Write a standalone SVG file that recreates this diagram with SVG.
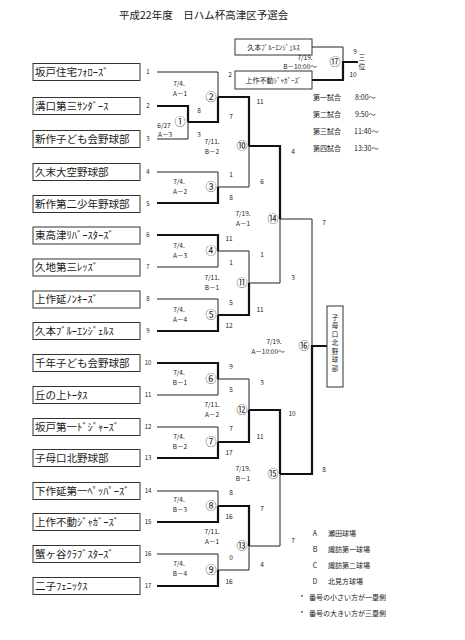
<svg xmlns="http://www.w3.org/2000/svg" width="465" height="640" viewBox="0 0 465 640">
<style>
text{font-family:"Noto Sans CJK JP","Noto Sans",sans-serif;fill:#1a1a1a}
.box{fill:#fff;stroke:#333;stroke-width:1}
.team{font-size:10.5px}
.seed{font-size:6px;text-anchor:middle}
.s{font-size:6.5px;text-anchor:middle}
.d{font-size:6.5px;text-anchor:middle}
.n{font-size:11px;text-anchor:middle}
.t{font-size:7px}
.thin{fill:none;stroke:#222;stroke-width:1}
.thick{fill:none;stroke:#111;stroke-width:2.2}
</style>
<rect width="465" height="640" fill="#fff"/>
<text x="119" y="19" style="font-size:10.5px">平成22年度　日ハム杯高津区予選会</text>

<g id="connectors">
<g class="thin">
<path d="M157,139 H188 V122"/>
<path d="M157,72 H218 V97"/>
<path d="M157,172 H218 V187"/>
<path d="M157,267 H218 V251"/>
<path d="M157,299 H218 V315"/>
<path d="M157,395 H218 V379"/>
<path d="M157,427 H218 V442"/>
<path d="M157,491 H218 V506"/>
<path d="M157,554 H218 V570"/>
<path d="M218,187 H249 V146"/>
<path d="M218,251 H249 V283"/>
<path d="M218,379 H249 V410"/>
<path d="M218,570 H249 V546"/>
<path d="M249,283 H280 V219"/>
<path d="M249,546 H280 V474"/>
<path d="M280,219 H312 V346"/>
<path d="M312,47 H343 V62"/>
</g>
<g class="thick">
<path d="M157,106 H188 V122"/>
<path d="M188,122 H218 V97"/>
<path d="M157,203 H218 V187"/>
<path d="M157,235 H218 V251"/>
<path d="M157,331 H218 V315"/>
<path d="M157,363 H218 V379"/>
<path d="M157,458 H218 V442"/>
<path d="M157,522 H218 V506"/>
<path d="M157,586 H218 V570"/>
<path d="M218,97 H249 V146"/>
<path d="M218,315 H249 V283"/>
<path d="M218,442 H249 V410"/>
<path d="M218,506 H249 V546"/>
<path d="M249,146 H280 V219"/>
<path d="M249,410 H280 V474"/>
<path d="M280,474 H312 V346 H327"/>
<path d="M312,80 H343 V62 H358"/>
</g>
</g>

<g id="team1"><rect class="box" x="33" y="63.5" width="107" height="17"/><text class="team" x="35" y="75.7">坂戸住宅ﾌｫﾛｰｽﾞ</text><text class="seed" x="148" y="74">1</text></g>
<g id="team2"><rect class="box" x="33" y="97.5" width="107" height="17"/><text class="team" x="35" y="109.7">溝口第三ｻﾝﾀﾞｰｽ</text><text class="seed" x="148" y="108">2</text></g>
<g id="team3"><rect class="box" x="33" y="130.5" width="107" height="17"/><text class="team" x="35" y="142.7">新作子ども会野球部</text><text class="seed" x="148" y="141">3</text></g>
<g id="team4"><rect class="box" x="33" y="163.5" width="107" height="17"/><text class="team" x="35" y="175.7">久末大空野球部</text><text class="seed" x="148" y="174">4</text></g>
<g id="team5"><rect class="box" x="33" y="195.5" width="107" height="17"/><text class="team" x="35" y="207.7">新作第二少年野球部</text><text class="seed" x="148" y="206">5</text></g>
<g id="team6"><rect class="box" x="33" y="227" width="107" height="17"/><text class="team" x="35" y="239.2">東高津ﾘﾊﾞｰｽﾀｰｽﾞ</text><text class="seed" x="148" y="237">6</text></g>
<g id="team7"><rect class="box" x="33" y="259" width="107" height="17"/><text class="team" x="35" y="271.2">久地第三ﾚｯｽﾞ</text><text class="seed" x="148" y="269">7</text></g>
<g id="team8"><rect class="box" x="33" y="291" width="107" height="17"/><text class="team" x="35" y="303.2">上作延ﾉﾝｷｰｽﾞ</text><text class="seed" x="148" y="301">8</text></g>
<g id="team9"><rect class="box" x="33" y="322.5" width="107" height="17"/><text class="team" x="35" y="334.7">久本ﾌﾞﾙｰｴﾝｼﾞｪﾙｽ</text><text class="seed" x="148" y="333">9</text></g>
<g id="team10"><rect class="box" x="33" y="354.5" width="107" height="17"/><text class="team" x="35" y="366.7">千年子ども会野球部</text><text class="seed" x="148" y="365">10</text></g>
<g id="team11"><rect class="box" x="33" y="386.5" width="107" height="17"/><text class="team" x="35" y="398.7">丘の上ﾄｰﾀｽ</text><text class="seed" x="148" y="397">11</text></g>
<g id="team12"><rect class="box" x="33" y="418.5" width="107" height="17"/><text class="team" x="35" y="430.7">坂戸第一ﾄﾞｼﾞｬｰｽﾞ</text><text class="seed" x="148" y="429">12</text></g>
<g id="team13"><rect class="box" x="33" y="449.5" width="107" height="17"/><text class="team" x="35" y="461.7">子母口北野球部</text><text class="seed" x="148" y="460">13</text></g>
<g id="team14"><rect class="box" x="33" y="482.5" width="107" height="17"/><text class="team" x="35" y="494.7">下作延第一ﾍﾟｯﾊﾟｰｽﾞ</text><text class="seed" x="148" y="493">14</text></g>
<g id="team15"><rect class="box" x="33" y="513.5" width="107" height="17"/><text class="team" x="35" y="525.7">上作不動ｼﾞｬｶﾞｰｽﾞ</text><text class="seed" x="148" y="524">15</text></g>
<g id="team16"><rect class="box" x="33" y="545.5" width="107" height="17"/><text class="team" x="35" y="557.7">蟹ヶ谷ｸﾗﾌﾞｽﾀｰｽﾞ</text><text class="seed" x="148" y="556">16</text></g>
<g id="team17"><rect class="box" x="33" y="577.5" width="107" height="17"/><text class="team" x="35" y="589.7">二子ﾌｪﾆｯｸｽ</text><text class="seed" x="148" y="588">17</text></g>

<g id="m1"><text class="n" x="180" y="126">①</text><text class="d" x="164" y="128">6/27</text><text class="d" x="165" y="137">A－3</text><text class="s" x="199" y="113.3">8</text><text class="s" x="199" y="137.3">3</text></g>
<g id="m2"><text class="n" x="211" y="101">②</text><text class="d" x="179" y="86">7/4.</text><text class="d" x="180" y="95.5">A－1</text><text class="s" x="230" y="77.3">2</text><text class="s" x="231" y="119.3">7</text></g>
<g id="m3"><text class="n" x="211" y="191">③</text><text class="d" x="179" y="184">7/4.</text><text class="d" x="180" y="194">A－2</text><text class="s" x="231" y="177.3">1</text><text class="s" x="231" y="200.3">8</text></g>
<g id="m4"><text class="n" x="211" y="255">④</text><text class="d" x="179" y="248">7/4.</text><text class="d" x="180" y="258">A－3</text><text class="s" x="229" y="241.3">11</text><text class="s" x="231" y="265.3">1</text></g>
<g id="m5"><text class="n" x="211" y="319">⑤</text><text class="d" x="179" y="312">7/4.</text><text class="d" x="180" y="321.5">A－4</text><text class="s" x="231" y="305.3">5</text><text class="s" x="229" y="328.3">12</text></g>
<g id="m6"><text class="n" x="211" y="383">⑥</text><text class="d" x="179" y="375">7/4.</text><text class="d" x="180" y="385">B－1</text><text class="s" x="231" y="369.3">9</text><text class="s" x="231" y="392.3">5</text></g>
<g id="m7"><text class="n" x="211" y="446">⑦</text><text class="d" x="179" y="439">7/4.</text><text class="d" x="180" y="448.5">B－2</text><text class="s" x="231" y="431.3">7</text><text class="s" x="229" y="455.3">17</text></g>
<g id="m8"><text class="n" x="211" y="510">⑧</text><text class="d" x="179" y="502">7/4.</text><text class="d" x="180" y="511.5">B－3</text><text class="s" x="231" y="495.3">8</text><text class="s" x="229" y="519.3">16</text></g>
<g id="m9"><text class="n" x="211" y="574">⑨</text><text class="d" x="179" y="566">7/4.</text><text class="d" x="180" y="575.5">B－4</text><text class="s" x="231" y="560.3">0</text><text class="s" x="229" y="584.3">16</text></g>
<g id="m10"><text class="n" x="242" y="150">⑩</text><text class="d" x="212" y="144">7/11.</text><text class="d" x="212" y="154">B－2</text><text class="s" x="260" y="104.3">11</text><text class="s" x="262" y="184.3">6</text></g>
<g id="m11"><text class="n" x="242" y="287">⑪</text><text class="d" x="212" y="280">7/11.</text><text class="d" x="212" y="289.5">B－1</text><text class="s" x="262" y="257.3">1</text><text class="s" x="260" y="312.3">11</text></g>
<g id="m12"><text class="n" x="242" y="414">⑫</text><text class="d" x="212" y="407">7/11.</text><text class="d" x="212" y="417">A－2</text><text class="s" x="262" y="385.3">3</text><text class="s" x="260" y="439.3">11</text></g>
<g id="m13"><text class="n" x="242" y="550">⑬</text><text class="d" x="212" y="534">7/11.</text><text class="d" x="212" y="543.5">A－1</text><text class="s" x="262" y="511.3">7</text><text class="s" x="262" y="567.3">4</text></g>
<g id="m14"><text class="n" x="273" y="223">⑭</text><text class="d" x="243" y="216">7/19.</text><text class="d" x="243" y="225.5">A－1</text><text class="s" x="293" y="154.3">4</text><text class="s" x="293" y="280.3">3</text></g>
<g id="m15"><text class="n" x="273" y="478">⑮</text><text class="d" x="243" y="471">7/19.</text><text class="d" x="243" y="480.5">B－1</text><text class="s" x="292" y="416.3">10</text><text class="s" x="293" y="543.3">7</text></g>
<g id="m16"><text class="n" x="304" y="350">⑯</text><text class="d" x="274" y="344">7/19.</text><text class="d" x="268" y="353.5">A－10:00～</text><text class="s" x="324" y="225.3">7</text><text class="s" x="324" y="472.3">8</text></g>
<g id="m17"><text class="n" x="335" y="66">⑰</text><text class="d" x="305" y="59.5">7/19.</text><text class="d" x="300" y="69">B－10:00～</text><text class="s" x="355" y="54.3">9</text><text class="s" x="353" y="77.3">10</text></g>

<g id="third-a"><rect class="box" x="235" y="39" width="77" height="16"/><text x="273.5" y="50" style="font-size:7px;text-anchor:middle">久本ﾌﾞﾙｰｴﾝｼﾞｪﾙｽ</text></g>
<g id="third-b"><rect class="box" x="235" y="71" width="77" height="18"/><text x="273.5" y="82.5" style="font-size:7px;text-anchor:middle">上作不動ｼﾞｬｶﾞｰｽﾞ</text></g>
<g id="third-place"><text x="362" y="59.5" style="font-size:6.8px;text-anchor:middle">三</text><text x="362" y="69" style="font-size:6.8px;text-anchor:middle">位</text></g>
<g id="champion"><rect class="box" x="327" y="306" width="16" height="81"/>
<text style="font-size:6.5px;text-anchor:middle"><tspan x="335" y="319.5">子</tspan><tspan x="335" y="328">母</tspan><tspan x="335" y="336.5">口</tspan><tspan x="335" y="345">北</tspan><tspan x="335" y="353.5">野</tspan><tspan x="335" y="362">球</tspan><tspan x="335" y="370.5">部</tspan></text></g>

<g id="schedule" class="t">
<text x="313" y="99.5">第一試合</text><text x="355" y="99.5">8:00～</text>
<text x="313" y="116.5">第二試合</text><text x="355" y="116.5">9:50～</text>
<text x="313" y="133.5">第三試合</text><text x="354" y="133.5">11:40～</text>
<text x="313" y="150.5">第四試合</text><text x="354" y="150.5">13:30～</text>
</g>
<g id="legend" class="t">
<text x="315" y="535.5" text-anchor="middle">A</text><text x="328" y="535.5">瀬田球場</text>
<text x="315" y="552" text-anchor="middle">B</text><text x="328" y="552">諏訪第一球場</text>
<text x="315" y="568" text-anchor="middle">C</text><text x="328" y="568">諏訪第二球場</text>
<text x="315" y="583.5" text-anchor="middle">D</text><text x="328" y="583.5">北見方球場</text>
<text x="302" y="600" text-anchor="middle">*</text><text x="309" y="599.5">番号の小さい方が一塁側</text>
<text x="302" y="616" text-anchor="middle">*</text><text x="309" y="615.5">番号の大きい方が三塁側</text>
</g>
</svg>
